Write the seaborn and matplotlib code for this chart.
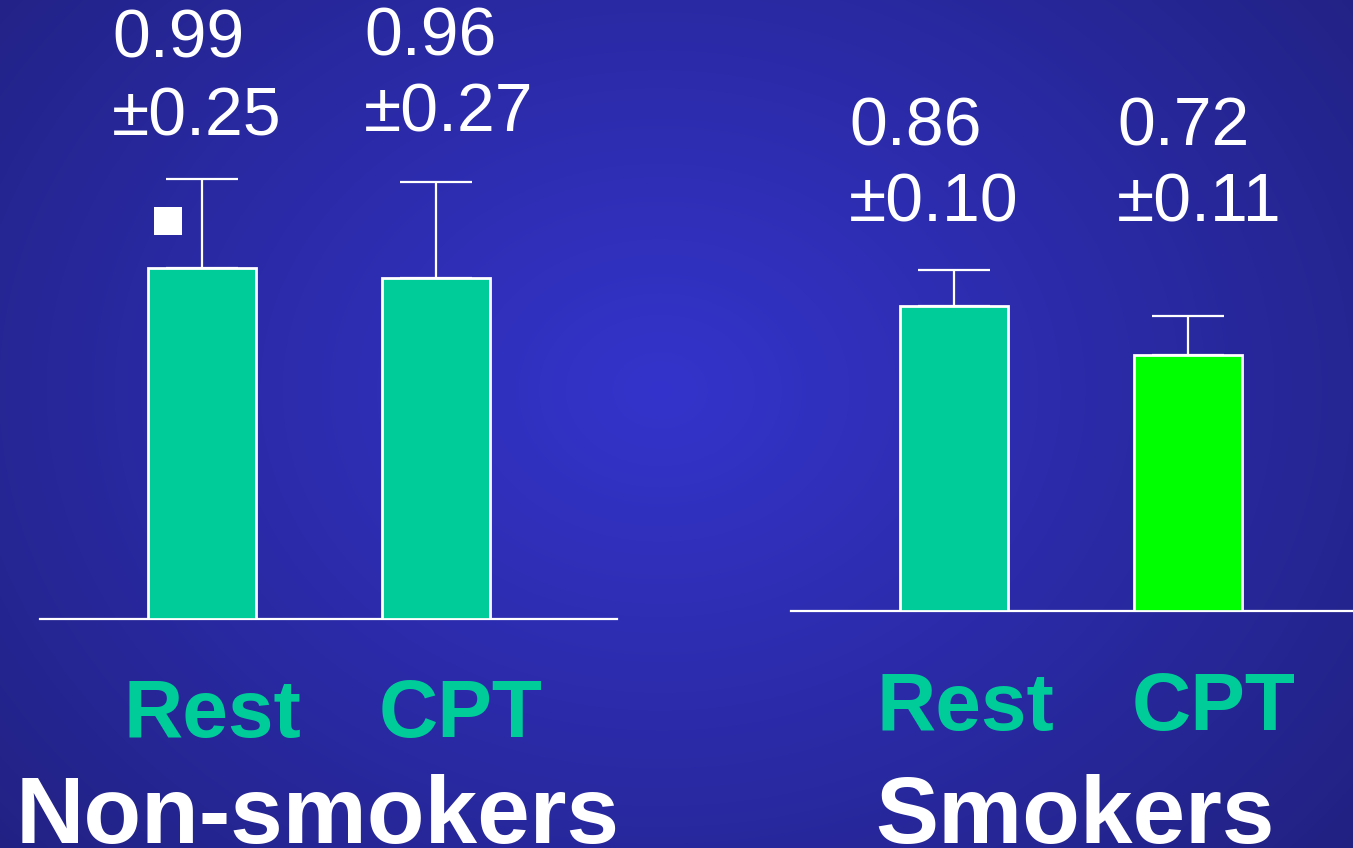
import numpy as np
import pandas as pd
import matplotlib
matplotlib.use('Agg')
import matplotlib.pyplot as plt
import seaborn as sns

groups = ['Non-smokers', 'Smokers']
conditions = ['Rest', 'CPT']
means = {'Non-smokers': [0.99, 0.96], 'Smokers': [0.86, 0.72]}
sds = {'Non-smokers': [0.25, 0.27], 'Smokers': [0.10, 0.11]}
bar_colors = {'Non-smokers': ['#00CC99', '#00CC99'], 'Smokers': ['#00CC99', '#00FF00']}

sns.set_style('white')
plt.rcParams['font.family'] = ['Liberation Sans', 'DejaVu Sans']

W, H = 1353, 848
fig = plt.figure(figsize=(W / 100, H / 100), dpi=100)

# radial blue background
bg = fig.add_axes([0, 0, 1, 1])
yy, xx = np.mgrid[0:H, 0:W]
r = np.sqrt(((xx - 660) / 700.0) ** 2 + ((yy - 390) / 560.0) ** 2)
r = np.clip(r / r.max(), 0, 1)
c0 = np.array([52, 52, 204]) / 255
c1 = np.array([33, 33, 130]) / 255
img = c0[None, None, :] * (1 - r[..., None]) + c1[None, None, :] * r[..., None]
bg.imshow(img, extent=[0, W, H, 0], aspect='auto')
bg.axis('off')

px_unit = 234.0   # pixels between bar centres
py_unit = 355.0   # pixels per y unit
panels = {
    'Non-smokers': dict(x0=40, x1=617, base=619, c0=202),
    'Smokers': dict(x0=791, x1=1353, base=611, c0=954),
}

for g in groups:
    p = panels[g]
    ax = fig.add_axes([p['x0'] / W, (H - p['base']) / H,
                       (p['x1'] - p['x0']) / W, p['base'] / H])
    ax.patch.set_alpha(0)
    df = pd.DataFrame({'cond': conditions, 'val': means[g]})
    sns.barplot(data=df, x='cond', y='val', hue='cond', palette=bar_colors[g],
                saturation=1, width=108 / px_unit, edgecolor='white',
                linewidth=2, legend=False, ax=ax, zorder=3)
    ax.errorbar(range(len(conditions)), means[g],
                yerr=[np.zeros(len(conditions)), sds[g]],
                fmt='none', ecolor='white', elinewidth=1.6, capsize=26,
                capthick=1.6, zorder=2)
    ax.set_xlim((p['x0'] - p['c0']) / px_unit, (p['x1'] - p['c0']) / px_unit)
    ax.set_ylim(0, p['base'] / py_unit)
    sns.despine(ax=ax, left=True)
    ax.spines['bottom'].set_color('white')
    ax.spines['bottom'].set_linewidth(1.6)
    ax.set_xticks([])
    ax.set_yticks([])
    ax.set_xlabel('')
    ax.set_ylabel('')
    if g == 'Non-smokers':
        ax.scatter([-0.145], [1.12], marker='s', s=400, color='white',
                   linewidths=0, zorder=4)

# value labels
val_pos = {
    ('Non-smokers', 0): (112, 58, 135),
    ('Non-smokers', 1): (364, 55, 132),
    ('Smokers', 0): (849, 145, 222),
    ('Smokers', 1): (1117, 145, 222),
}
for g in groups:
    for i in range(len(conditions)):
        x, y1, y2 = val_pos[(g, i)]
        fig.text(x / W, 1 - y1 / H, f'{means[g][i]:.2f}', color='white',
                 fontsize=49, ha='left', va='baseline')
        fig.text(x / W, 1 - y2 / H, f'\u00b1{sds[g][i]:.2f}', color='white',
                 fontsize=49, ha='left', va='baseline')

# condition labels
cond_pos = {'Non-smokers': ([212, 461], 737), 'Smokers': ([965, 1214], 730)}
for g in groups:
    xs, yb = cond_pos[g]
    for x, c in zip(xs, conditions):
        fig.text(x / W, 1 - yb / H, c, color='#00CC99', fontsize=59,
                 fontweight='bold', ha='center', va='baseline')

# group titles
title_pos = {'Non-smokers': 318, 'Smokers': 1075}
for g in groups:
    fig.text(title_pos[g] / W, 1 - 843 / H, g, color='white', fontsize=68,
             fontweight='bold', ha='center', va='baseline')

plt.savefig('out.png', dpi=100)
